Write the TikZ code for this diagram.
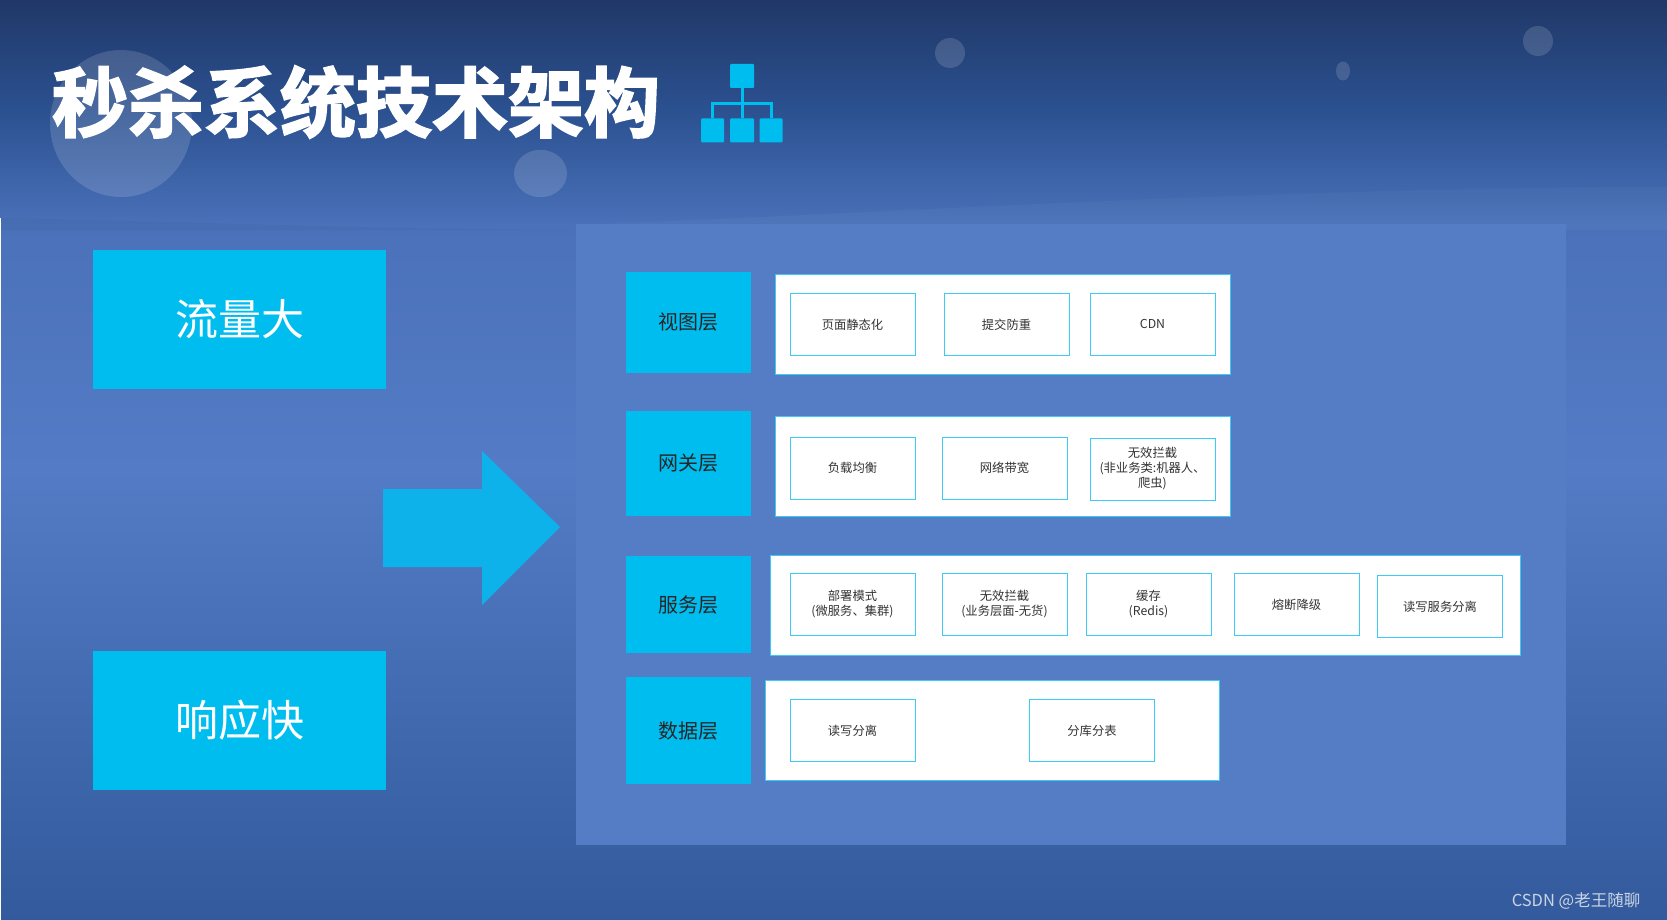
\documentclass[tikz,border=0pt]{standalone}
\usepackage{fontspec}
\setmainfont{Noto Sans CJK SC}
\newfontfamily\titlefont[FakeBold=2.5]{Noto Sans CJK SC Bold}
\usetikzlibrary{calc}
\definecolor{cyanbox}{HTML}{00BDF0}
\definecolor{cyanline}{HTML}{3CCBF5}
\definecolor{panelblue}{HTML}{557DC5}
\definecolor{bgtop}{RGB}{32,56,104}
\definecolor{bgupper}{RGB}{44,82,146}
\definecolor{bgband}{RGB}{74,113,185}
\definecolor{bgmid}{RGB}{84,124,198}
\definecolor{bgbottom}{RGB}{50,90,156}
\tikzset{
  bigbox/.style={fill=cyanbox,text=white,minimum width=293pt,minimum height=139pt,font=\fontsize{43}{43}\selectfont},
  layer/.style={fill=cyanbox,text=black!85,minimum width=125pt,font=\fontsize{20}{20}\selectfont},
  strip/.style={fill=white,draw=cyanline,line width=1pt},
  item/.style={fill=white,draw=cyanline,line width=1pt,minimum width=125pt,minimum height=62pt,align=center,text=black!80,font=\fontsize{12.3}{15}\selectfont},
  bubble/.style={fill=white,fill opacity=0.14,draw=none},
  icon/.style={fill=cyanbox,rounded corners=1pt,minimum width=24pt,minimum height=24pt},
}
\begin{document}
\begin{tikzpicture}[x=1pt,y=-1pt,inner sep=0pt]
\useasboundingbox (0,0) rectangle (1667,920);
% background
\shade[top color=bgtop,bottom color=bgupper] (0,0) rectangle (1667,115);
\shade[top color=bgupper,bottom color=bgband] (0,115) rectangle (1667,225);
\shade[top color=bgband,bottom color=bgmid] (0,225) rectangle (1667,470);
\shade[top color=bgmid,bottom color=bgbottom] (0,470) rectangle (1667,920);
\fill[white,opacity=0.03] (600,224) .. controls (900,212) and (1300,187) .. (1667,187) -- (1667,230) -- (600,230) -- cycle;
\fill[black,opacity=0.03] (0,218) .. controls (200,222) and (400,230) .. (576,230) -- (0,230) -- cycle;
\fill[white] (0,218) rectangle (1,920);
% bubbles
\fill[bubble] (121,123.5) ellipse (71 and 73.5);
\fill[bubble] (540.5,173.5) ellipse (26.5 and 23.7);
\fill[bubble] (950,53) ellipse (15 and 15);
\fill[bubble] (1343,71) ellipse (7 and 9.5);
\fill[bubble] (1538,41) ellipse (15 and 15);
% title
\node[text=white,font=\titlefont\fontsize{76}{76}\selectfont] (title) at (356,102) {秒杀系统技术架构};
% icon
\node[icon] (i1) at (742,76) {};
\node[icon,minimum width=23pt] (i21) at (712.5,130.5) {};
\node[icon] (i22) at (742,130.5) {};
\node[icon,minimum width=23pt] (i23) at (771,130.5) {};
\coordinate (i0) at (742,103.5);
\draw[cyanbox,line width=3pt] (i1) -- (i22);
\draw[cyanbox,line width=3pt] (i21.north) |- (i0) -| (i23.north);
% left side
\node[bigbox] (big1) at (239.5,319.5) {流量大};
\node[bigbox] (big2) at (239.5,720) {响应快};
\fill[fill={rgb,255:red,13;green,178;blue,235}] (383,489) -- (482,489) -- (482,451) -- (560,527) -- (482,605) -- (482,567) -- (383,567) -- cycle;
% panel
\fill[panelblue] (576,224) rectangle (1566,845);
\node[layer,minimum height=101pt] (l1) at (688.5,322.5) {视图层};
\node[layer,minimum height=105pt] (l2) at (688.5,463.5) {网关层};
\node[layer,minimum height=97pt] (l3) at (688.5,604.5) {服务层};
\node[layer,minimum height=107pt] (l4) at (688.5,730.5) {数据层};
\node[strip,minimum width=455pt,minimum height=100pt] (s1) at (1003,324) {};
\node[strip,minimum width=455pt,minimum height=100pt] (s2) at (1003,466) {};
\node[strip,minimum width=750pt,minimum height=100pt] (s3) at (1145,605) {};
\node[strip,minimum width=454pt,minimum height=100pt] (s4) at (992,730) {};
\node[item] (a11) at (852.5,324.5) {\raisebox{1pt}{页面静态化}};
\node[item] (a12) at (1006.5,324.5) {\raisebox{1pt}{提交防重}};
\node[item] (a13) at (1152.5,324.5) {\raisebox{1pt}{CDN}};
\node[item] (a21) at (852.5,468) {负载均衡};
\node[item] (a22) at (1004.5,468) {网络带宽};
\node[item] (a23) at (1152.5,469) {无效拦截\\(非业务类:机器人、\\爬虫)};
\node[item] (a31) at (852.5,604.5) {部署模式\\(微服务、集群)};
\node[item] (a32) at (1004.5,604.5) {无效拦截\\(业务层面-无货)};
\node[item] (a33) at (1148.5,604.5) {缓存\\(Redis)};
\node[item] (a34) at (1296.5,604.5) {熔断降级};
\node[item] (a35) at (1440,606.5) {读写服务分离};
\node[item] (a41) at (852.5,730.5) {读写分离};
\node[item] (a42) at (1092,730.5) {分库分表};
% watermark
\node[text=white!75!bgupper,font=\fontsize{16.5}{16.5}\selectfont] (mark) at (1576,901) {CSDN @老王随聊};
\end{tikzpicture}
\end{document}
